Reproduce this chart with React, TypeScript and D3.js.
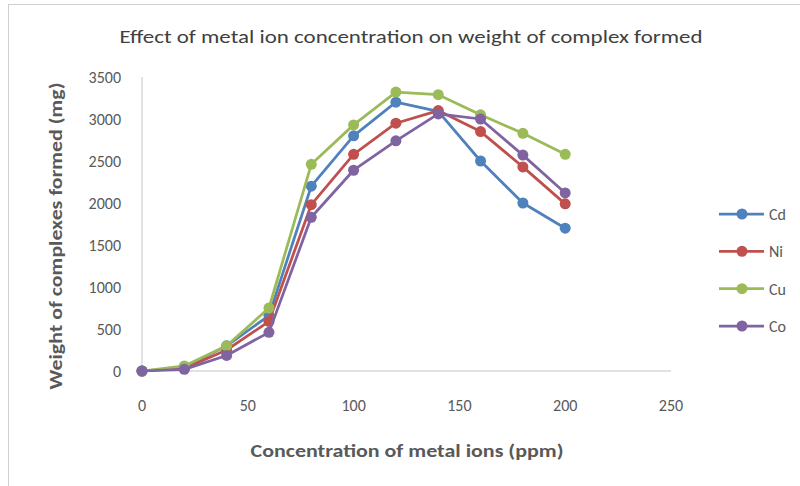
import React, { useRef, useEffect } from 'react';
import * as d3 from 'd3';

const concentrations = [0, 20, 40, 60, 80, 100, 120, 140, 160, 180, 200];
const cdValues = [0, 40, 300, 660, 2200, 2800, 3200, 3090, 2500, 2000, 1700];
const niValues = [0, 30, 250, 590, 1980, 2580, 2950, 3100, 2850, 2430, 1990];
const cuValues = [0, 60, 300, 750, 2460, 2930, 3320, 3290, 3050, 2830, 2580];
const coValues = [0, 20, 185, 460, 1830, 2390, 2740, 3060, 3000, 2570, 2120];
const seriesNames = ['Cd', 'Ni', 'Cu', 'Co'];
const seriesColors = ['#4F81BD', '#C0504D', '#9BBB59', '#8064A2'];
const xTicks = [0, 50, 100, 150, 200, 250];
const yTicks = [0, 500, 1000, 1500, 2000, 2500, 3000, 3500];

const W = 800;
const H = 486;
const FONT = 'Carlito, Calibri, "Liberation Sans Narrow", "Liberation Sans", Arial, sans-serif';

const App: React.FC = () => {
  const svgRef = useRef<SVGSVGElement>(null);

  useEffect(() => {
    if (!svgRef.current) return;
    const svg = d3.select(svgRef.current);
    svg.selectAll('*').remove();

    const allSeries = [cdValues, niValues, cuValues, coValues];

    const x = d3.scaleLinear().domain([0, 250]).range([142, 671]);
    const y = d3.scaleLinear().domain([0, 3500]).range([371, 77]);

    // chart frame
    svg.append('rect').attr('width', W).attr('height', H).attr('fill', '#fff');
    svg
      .append('rect')
      .attr('x', 8.5)
      .attr('y', 4.5)
      .attr('width', W + 10)
      .attr('height', H + 10)
      .attr('fill', 'none')
      .attr('stroke', '#D0D0D0')
      .attr('stroke-width', 1);

    // axes
    svg
      .append('line')
      .attr('x1', x(0))
      .attr('x2', x(250))
      .attr('y1', y(0))
      .attr('y2', y(0))
      .attr('stroke', '#D9D9D9')
      .attr('stroke-width', 1.5);
    svg
      .append('line')
      .attr('x1', x(0))
      .attr('x2', x(0))
      .attr('y1', y(0))
      .attr('y2', y(3500))
      .attr('stroke', '#D9D9D9')
      .attr('stroke-width', 1.5);

    // tick labels
    svg
      .selectAll('.xt')
      .data(xTicks)
      .enter()
      .append('text')
      .attr('x', (d) => x(d))
      .attr('y', 411)
      .attr('text-anchor', 'middle')
      .attr('fill', '#595959')
      .style('font-family', FONT)
      .style('font-size', '16px')
      .text((d) => d);

    svg
      .selectAll('.yt')
      .data(yTicks)
      .enter()
      .append('text')
      .attr('x', 121)
      .attr('y', (d) => y(d) + 5.5)
      .attr('text-anchor', 'end')
      .attr('fill', '#595959')
      .style('font-family', FONT)
      .style('font-size', '16px')
      .text((d) => d);

    // titles
    svg
      .append('text')
      .attr('x', 411)
      .attr('y', 43)
      .attr('text-anchor', 'middle')
      .attr('fill', '#404040')
      .style('font-family', FONT)
      .style('font-size', '18px')
      .attr('textLength', 583)
      .attr('lengthAdjust', 'spacingAndGlyphs')
      .text('Effect of metal ion concentration on weight of complex formed');

    svg
      .append('text')
      .attr('x', 407)
      .attr('y', 457)
      .attr('text-anchor', 'middle')
      .attr('fill', '#595959')
      .style('font-family', FONT)
      .style('font-size', '18px')
      .style('font-weight', 'bold')
      .attr('textLength', 313)
      .attr('lengthAdjust', 'spacingAndGlyphs')
      .text('Concentration of metal ions (ppm)');

    svg
      .append('text')
      .attr('transform', 'translate(62,236) rotate(-90)')
      .attr('text-anchor', 'middle')
      .attr('fill', '#595959')
      .style('font-family', FONT)
      .style('font-size', '18px')
      .style('font-weight', 'bold')
      .attr('textLength', 307)
      .attr('lengthAdjust', 'spacingAndGlyphs')
      .text('Weight of complexes formed (mg)');

    // series
    const line = d3
      .line<number>()
      .x((_, i) => x(concentrations[i]))
      .y((d) => y(d));

    allSeries.forEach((vals, si) => {
      const g = svg.append('g');
      g.append('path')
        .attr('d', line(vals) || '')
        .attr('fill', 'none')
        .attr('stroke', seriesColors[si])
        .attr('stroke-width', 2.75)
        .attr('stroke-linejoin', 'round');
      g.selectAll('circle')
        .data(vals)
        .enter()
        .append('circle')
        .attr('cx', (_, i) => x(concentrations[i]))
        .attr('cy', (d) => y(d))
        .attr('r', 5.5)
        .attr('fill', seriesColors[si]);
    });

    // legend
    const legendY = d3.scalePoint<string>().domain(seriesNames).range([214, 326]);
    seriesNames.forEach((name, si) => {
      const ly = legendY(name) || 0;
      svg
        .append('line')
        .attr('x1', 719)
        .attr('x2', 764)
        .attr('y1', ly)
        .attr('y2', ly)
        .attr('stroke', seriesColors[si])
        .attr('stroke-width', 2.75);
      svg
        .append('circle')
        .attr('cx', 742)
        .attr('cy', ly)
        .attr('r', 5.5)
        .attr('fill', seriesColors[si]);
      svg
        .append('text')
        .attr('x', 769)
        .attr('y', ly + 6)
        .attr('fill', '#595959')
        .style('font-family', FONT)
        .style('font-size', '16px')
        .text(name);
    });
  }, []);

  return (
    <div style={{ position: 'fixed', left: 0, top: 0, width: W, height: H }}>
      <svg ref={svgRef} width={W} height={H} style={{ display: 'block' }} />
    </div>
  );
};

export default App;
